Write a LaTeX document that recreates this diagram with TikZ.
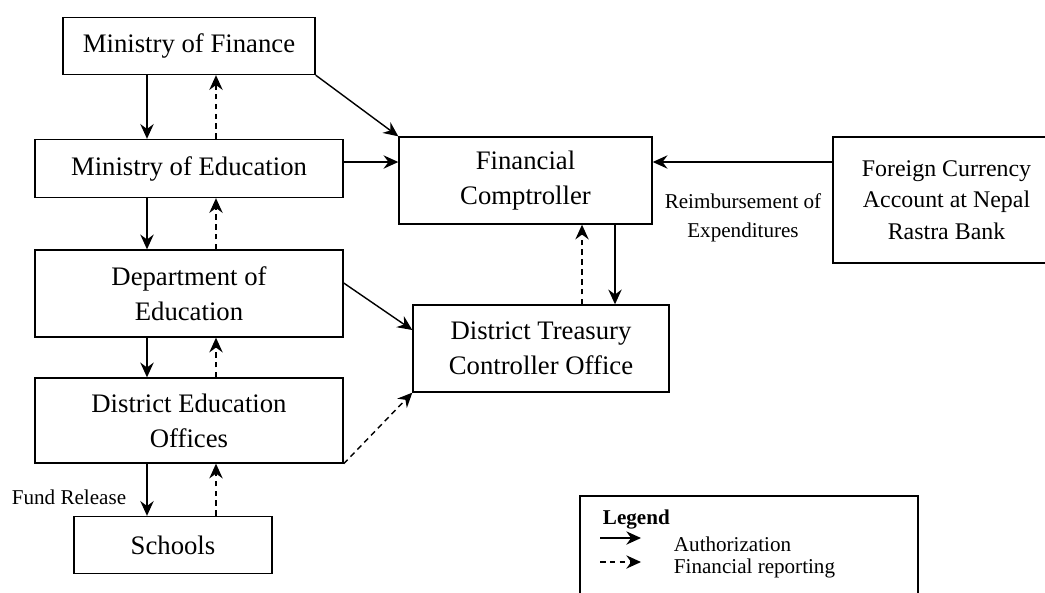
\documentclass[tikz,border=0pt]{standalone}
\usepackage{fontspec}
\setmainfont{Liberation Serif}
\usetikzlibrary{positioning, arrows.meta, calc}

\begin{document}
\begin{tikzpicture}[x=0.025cm, y=-0.025cm,
                orgbox/.style={draw, line width=0.95pt, inner sep=0pt,
                    align=center, font=\fontsize{19}{25}\selectfont},
                auth/.style={line width=1pt,
                    -{Stealth[length=10.5pt, width=9.5pt, inset=3.5pt]}},
                rep/.style={auth, dash pattern=on 4pt off 3pt},
                smalltext/.style={font=\fontsize{15}{20.5}\selectfont, align=center}
            ]
                \useasboundingbox (0,0) rectangle (1045,592);

                \node[orgbox, minimum width=6.3cm, minimum height=1.425cm] (mof) at (189, 46)
                    {Ministry of Finance};
                \node[orgbox, minimum width=7.7cm, minimum height=1.45cm] (moe) at (189, 168.5)
                    {Ministry of Education};
                \node[orgbox, minimum width=7.7cm, minimum height=2.175cm] (doe) at (189, 293.5)
                    {Department of\\Education};
                \node[orgbox, minimum width=7.7cm, minimum height=2.125cm] (deo) at (189, 420.5)
                    {District Education\\Offices};
                \node[orgbox, minimum width=4.95cm, minimum height=1.425cm] (sch) at (173, 545)
                    {Schools};
                \node[orgbox, minimum width=6.325cm, minimum height=2.175cm] (fc) at (525.5, 180.5)
                    {Financial\\Comptroller};
                \node[orgbox, minimum width=6.4cm, minimum height=2.175cm] (dtco) at (541, 348.5)
                    {District Treasury\\Controller Office};
                \node[orgbox, minimum width=5.675cm, minimum height=3.15cm,
                      font=\fontsize{17}{22.4}\selectfont] (fca) at (946.5, 200)
                    {Foreign Currency\\Account at Nepal\\Rastra Bank};

                \node[smalltext] (reimb) at (743, 218)
                    {Reimbursement of\\Expenditures};
                \node[smalltext] (fund) at (69, 497)
                    {Fund Release};

                % vertical chain on the left
                \foreach \a/\b in {mof/moe, moe/doe, doe/deo, deo/sch} {
                    \draw[auth] (\a.south -| 147,0) -- (\b.north -| 147,0);
                    \draw[rep] (\b.north -| 216,0) -- (\a.south -| 216,0);
                }

                \draw[auth] (mof.south east) -- (fc.north west);
                \draw[auth] (moe.east |- 0,162) -- (fc.west |- 0,162);
                \draw[auth] (fca.west |- 0,162) -- (fc.east |- 0,162);
                \draw[auth] (doe.east |- 0,283) -- (dtco.west |- 0,330);
                \draw[rep] (deo.south east) -- (dtco.south west);
                \draw[auth] (fc.south -| 615,0) -- (dtco.north -| 615,0);
                \draw[rep] (dtco.north -| 582,0) -- (fc.south -| 582,0);

                % legend
                \draw[line width=0.95pt] (580, 496) rectangle (918, 620);
                \node[font=\fontsize{15}{18}\selectfont\bfseries, anchor=west] (leg) at (598, 520)
                    {Legend};
                \coordinate (la) at (600, 538);
                \coordinate (lb) at (641, 538);
                \coordinate (lc) at (600, 562);
                \coordinate (ld) at (641, 562);
                \draw[auth] (la) -- (lb);
                \draw[rep] (lc) -- (ld);
                \node[smalltext, anchor=west] (lauth) at (669, 544)
                    {Authorization};
                \node[smalltext, anchor=west] (lrep) at (669, 568)
                    {Financial reporting};

            \end{tikzpicture}
\end{document}
